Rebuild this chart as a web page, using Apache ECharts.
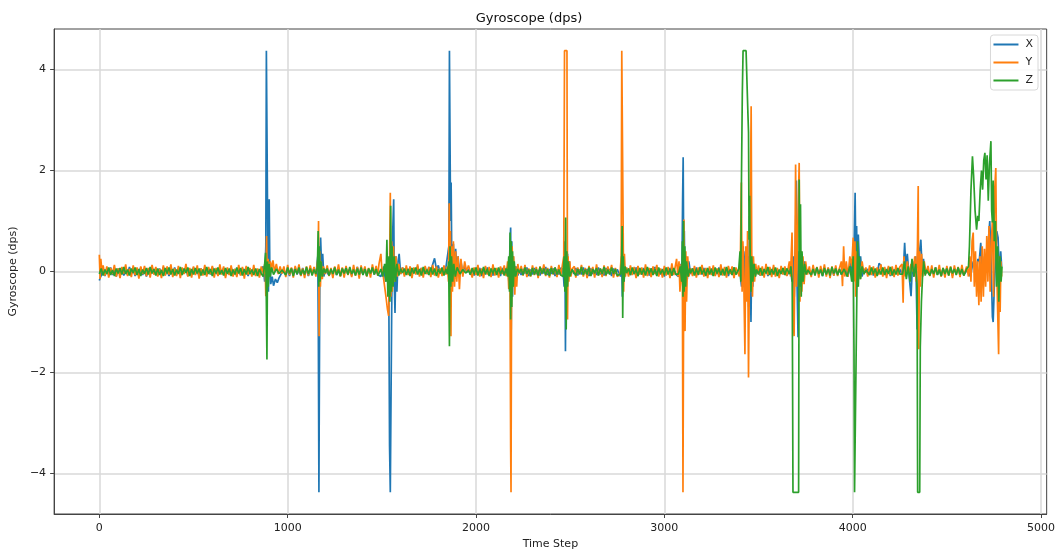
<!DOCTYPE html>
<html>
<head>
<meta charset="utf-8">
<script src="https://cdn.jsdelivr.net/npm/echarts@6/dist/echarts.min.js"></script>
<style>
html,body{margin:0;padding:0;background:#fff;}
#chart{width:1058px;height:556px;}
</style>
</head>
<body>
<div id="chart"></div>
<script>
// ---- tick labels ----
const xTicks = [0, 1000, 2000, 3000, 4000, 5000];
const yTicks = [-4, -2, 0, 2, 4];
const seriesNames = ['X', 'Y', 'Z'];

// ---- gyroscope X (time step, dps) ----
const gyroX = [
[0,-0.18],[5,-0.12],[10,-0.08],[20,0.05],[30,-0.09],[40,0.04],[50,-0.06],[60,0.08],[70,-0.07],[80,0.03],[90,-0.1],[100,0.06],[110,-0.04],[120,0.07],[130,-0.08],[140,0.02],[150,-0.06],[160,0.09],[170,-0.05],[180,0.04],[190,-0.09],[200,0.06],[210,-0.03],[220,0.08],[230,-0.07],[240,0.05],[250,-0.1],[260,0.03],[270,-0.06],[280,0.07],[290,-0.05],[300,0.04],[310,-0.08],[320,0.06],[330,-0.04],[340,0.09],[350,-0.07],[360,0.02],[370,-0.09],[380,0.05],[390,-0.05],[400,0.08],[410,-0.06],[420,0.03],[430,-0.08],[440,0.06],[450,-0.04],[460,0.07],[470,-0.09],[480,0.04],[490,-0.06],[500,0.08],[510,-0.05],[520,0.03],[530,-0.1],[540,0.06],[550,-0.04],[560,0.07],[570,-0.07],[580,0.05],[590,-0.06],[600,0.09],[610,-0.05],[620,0.02],[630,-0.08],[640,0.06],[650,-0.04],[660,0.07],[670,-0.09],[680,0.04],[690,-0.06],[700,0.08],[710,-0.05],[720,0.05],[730,-0.08],[740,0.03],[750,-0.07],[760,0.06],[770,-0.04],[780,0.08],[790,-0.09],[800,0.05],[810,-0.06],[820,0.07],[830,-0.05],[840,0.04],[850,-0.08],[860,0.03],
[870,0.1],[878,-0.2],[884,0.5],[887,4.37],[892,4.37],[895,0.3],[898,-0.4],[902,1.43],[905,0.2],[910,-0.25],[918,-0.1],[925,-0.28],[935,-0.15],[945,-0.22],[955,-0.12],[965,-0.05],
[980,0.05],[990,-0.07],[1000,0.04],[1010,-0.09],[1020,0.06],[1030,-0.04],[1040,0.08],[1050,-0.06],[1060,0.03],[1070,-0.08],[1080,0.07],[1090,-0.05],[1100,0.04],[1110,-0.09],[1120,0.06],[1130,-0.04],[1140,0.07],[1150,-0.06],
[1155,-0.05],[1160,0.3],[1163,-1.3],[1166,-4.37],[1168,-4.37],[1171,0.2],[1175,0.67],[1180,0.1],[1186,0.35],[1192,-0.1],[1200,0.04],
[1210,0.06],[1220,-0.08],[1230,0.04],[1240,-0.05],[1250,0.08],[1260,-0.07],[1270,0.03],[1280,-0.09],[1290,0.06],[1300,-0.04],[1310,0.07],[1320,-0.06],[1330,0.05],[1340,-0.08],[1350,0.04],[1360,-0.05],[1370,0.09],[1380,-0.07],[1390,0.03],[1400,-0.06],[1410,0.07],[1420,-0.09],[1430,0.05],[1440,-0.04],[1450,0.08],[1460,-0.06],[1470,0.04],[1480,-0.07],
[1495,-0.1],[1510,0.1],[1520,-0.2],[1530,0.2],[1537,-0.3],[1541,-3.45],[1545,-4.37],[1550,-4.37],[1553,-0.5],[1558,0.8],[1563,1.43],[1566,-0.2],[1570,-0.82],[1575,0.3],[1580,-0.4],[1586,0.2],[1592,0.35],[1600,-0.05],[1610,0.08],
[1620,-0.06],[1630,0.07],[1640,-0.03],[1650,0.09],[1660,-0.05],[1670,0.06],[1680,-0.02],[1690,0.1],[1700,-0.06],[1710,0.07],[1720,-0.03],[1730,0.08],[1740,-0.05],[1750,0.09],[1760,0.0],[1770,0.14],[1780,0.26],[1790,0.04],[1800,0.12],[1810,-0.03],[1820,0.08],[1830,-0.05],[1840,0.07],
[1850,0.1],[1856,0.5],[1859,4.37],[1862,4.37],[1865,1.0],[1868,1.76],[1871,0.4],[1875,-0.2],[1880,0.55],[1886,-0.15],[1892,0.45],[1898,0.0],[1905,0.3],[1912,-0.1],[1920,0.2],[1930,-0.05],[1940,0.12],[1950,-0.02],[1960,0.05],
[1970,-0.06],[1980,0.05],[1990,-0.08],[2000,0.04],[2010,-0.05],[2020,0.07],[2030,-0.09],[2040,0.03],[2050,-0.06],[2060,0.08],[2070,-0.04],[2080,0.05],[2090,-0.08],[2100,0.06],[2110,-0.05],[2120,0.04],[2130,-0.09],[2140,0.07],[2150,-0.04],[2160,0.05],
[2170,0.1],[2176,-0.3],[2180,0.5],[2184,0.87],[2187,-1.15],[2190,0.6],[2194,-0.5],[2198,0.3],[2204,-0.2],[2212,0.1],[2222,-0.08],[2230,0.02],
[2240,-0.07],[2250,0.05],[2260,-0.04],[2270,0.08],[2280,-0.09],[2290,0.04],[2300,-0.06],[2310,0.07],[2320,-0.05],[2330,0.03],[2340,-0.08],[2350,0.06],[2360,-0.04],[2370,0.09],[2380,-0.07],[2390,0.05],[2400,-0.05],[2410,0.06],[2420,-0.09],[2430,0.04],[2440,-0.06],[2450,0.07],
[2462,0.05],[2468,-0.3],[2472,0.6],[2475,-1.58],[2478,0.4],[2482,-0.3],[2486,0.35],[2490,-0.1],[2496,0.2],[2502,-0.05],[2510,0.05],
[2520,-0.05],[2530,0.07],[2540,-0.08],[2550,0.04],[2560,-0.06],[2570,0.08],[2580,-0.04],[2590,0.05],[2600,-0.09],[2610,0.06],[2620,-0.05],[2630,0.03],[2640,-0.07],[2650,0.08],[2660,-0.06],[2670,0.04],[2680,-0.08],[2690,0.07],[2700,-0.04],[2710,0.05],[2720,-0.09],[2730,0.06],[2740,-0.05],[2750,0.04],
[2768,-0.1],[2773,0.3],[2777,-0.5],[2780,0.25],[2785,-0.2],[2792,0.08],[2800,-0.03],
[2810,0.06],[2820,-0.07],[2830,0.04],[2840,-0.05],[2850,0.08],[2860,-0.09],[2870,0.03],[2880,-0.06],[2890,0.07],[2900,-0.04],[2910,0.05],[2920,-0.08],[2930,0.06],[2940,-0.05],[2950,0.09],[2960,-0.07],[2970,0.04],[2980,-0.06],[2990,0.05],[3000,-0.1],[3010,0.06],[3020,-0.04],[3030,0.07],[3040,-0.08],[3050,0.05],[3060,-0.05],
[3075,-0.1],[3085,0.15],[3093,-0.2],[3097,1.43],[3100,2.26],[3103,0.2],[3106,0.8],[3110,-0.4],[3115,0.3],[3122,-0.15],[3130,0.2],[3140,-0.05],
[3150,0.06],[3160,-0.05],[3170,0.08],[3180,-0.07],[3190,0.04],[3200,-0.06],[3210,0.07],[3220,-0.09],[3230,0.05],[3240,-0.04],[3250,0.06],[3260,-0.08],[3270,0.03],[3280,-0.05],[3290,0.08],[3300,-0.07],[3310,0.05],[3320,-0.04],[3330,0.07],[3340,-0.09],[3350,0.04],[3360,-0.06],[3370,0.08],[3380,-0.05],
[3400,0.05],[3410,-0.3],[3418,0.5],[3425,-0.2],[3430,0.4],[3436,-0.5],[3442,0.3],[3448,-0.7],[3452,1.1],[3456,0.3],[3460,-1.0],[3464,0.2],[3470,-0.3],[3476,0.15],[3482,-0.1],[3490,0.05],
[3500,0.06],[3510,-0.08],[3520,0.04],[3530,-0.05],[3540,0.07],[3550,-0.09],[3560,0.05],[3570,-0.04],[3580,0.08],[3590,-0.06],[3600,0.03],[3610,-0.07],[3620,0.06],[3630,-0.05],[3640,0.04],[3650,-0.08],
[3670,0.05],[3678,-0.2],[3684,0.3],[3690,-0.5],[3696,0.6],[3701,1.8],[3705,-0.3],[3710,-1.3],[3715,0.4],[3720,-0.2],[3726,0.3],[3734,-0.15],[3742,0.2],[3750,-0.05],[3760,0.03],
[3770,0.05],[3780,-0.07],[3790,0.06],[3800,-0.04],[3810,0.08],[3820,-0.06],[3830,0.03],[3840,-0.09],[3850,0.06],[3860,-0.05],[3870,0.07],[3880,-0.04],[3890,0.05],[3900,-0.08],[3910,0.06],[3920,-0.05],[3930,0.04],[3940,-0.06],
[3960,0.1],[3975,-0.1],[3990,0.2],[4000,-0.2],[4008,0.5],[4013,1.56],[4017,0.2],[4021,0.9],[4025,-0.3],[4030,0.73],[4036,0.1],[4042,0.3],[4050,-0.1],[4060,0.05],[4070,-0.02],
[4080,0.05],[4090,-0.06],[4100,0.07],[4110,-0.08],[4120,0.04],[4130,-0.05],[4140,0.16],[4150,0.12],[4160,-0.07],[4170,0.05],[4180,-0.04],[4190,0.08],[4200,-0.09],[4210,0.04],[4220,-0.05],[4230,0.07],[4240,-0.06],[4250,0.05],[4260,-0.04],
[4270,0.1],[4276,0.57],[4282,0.1],[4290,0.35],[4300,-0.1],[4310,-0.49],[4318,0.2],[4326,-0.1],[4335,0.3],[4342,-1.15],[4348,-0.2],[4355,0.4],[4362,0.63],[4368,0.1],[4376,0.25],[4384,-0.05],[4392,0.03],
[4400,0.05],[4410,-0.07],[4420,0.04],[4430,-0.05],[4440,0.08],[4450,-0.06],[4460,0.03],[4470,-0.09],[4480,0.06],[4490,-0.04],[4500,0.07],[4510,-0.05],[4520,0.05],[4530,-0.08],[4540,0.06],[4550,-0.04],[4560,0.07],[4570,-0.06],[4580,0.04],[4590,-0.07],
[4610,0.05],[4625,-0.1],[4640,0.2],[4655,-0.05],[4665,0.25],[4672,0.2],[4680,0.57],[4690,-0.1],[4700,0.3],[4710,0.1],[4720,0.6],[4728,1.0],[4735,0.2],[4742,-0.9],[4746,-1.0],[4752,-0.3],[4758,0.2],[4765,0.8],[4772,0.67],[4780,-0.2],[4786,0.4],[4791,0.1]
];

// ---- gyroscope Y (time step, dps) ----
const gyroY = [
[0,0.33],[4,-0.15],[8,0.25],[14,0.0],[20,0.12],[30,-0.08],[40,0.1],[50,-0.12],[60,0.07],[70,-0.05],[80,0.13],[90,-0.1],[100,0.06],[110,-0.13],[120,0.09],[130,-0.04],[140,0.14],[150,-0.09],[160,0.05],[170,-0.11],[180,0.12],[190,-0.07],[200,0.08],[210,-0.14],[220,0.1],[230,-0.05],[240,0.11],[250,-0.09],[260,0.07],[270,-0.12],[280,0.13],[290,-0.06],[300,0.09],[310,-0.1],[320,0.05],[330,-0.13],[340,0.12],[350,-0.08],[360,0.1],[370,-0.06],[380,0.14],[390,-0.11],[400,0.06],[410,-0.09],[420,0.11],[430,-0.13],[440,0.08],[450,-0.05],[460,0.15],[470,-0.1],[480,0.07],[490,-0.12],[500,0.1],[510,-0.07],[520,0.12],[530,-0.14],[540,0.06],[550,-0.08],[560,0.13],[570,-0.1],[580,0.09],[590,-0.05],[600,0.11],[610,-0.12],[620,0.07],[630,-0.09],[640,0.14],[650,-0.06],[660,0.1],[670,-0.13],[680,0.08],[690,-0.07],[700,0.12],[710,-0.1],[720,0.05],[730,-0.11],[740,0.13],[750,-0.08],[760,0.09],[770,-0.14],[780,0.11],[790,-0.06],[800,0.07],[810,-0.1],[820,0.13],[830,-0.09],[840,0.06],[850,-0.12],[860,0.1],
[872,-0.05],[880,0.2],[884,-0.49],[888,0.7],[892,-0.3],[896,0.25],[902,-0.1],[908,0.2],[915,0.05],[922,0.22],[930,0.0],[940,0.15],[950,-0.05],[960,0.1],[970,-0.04],
[980,0.1],[990,-0.11],[1000,0.13],[1010,-0.07],[1020,0.08],[1030,-0.12],[1040,0.11],[1050,-0.05],[1060,0.14],[1070,-0.09],[1080,0.06],[1090,-0.13],[1100,0.1],[1110,-0.08],[1120,0.12],[1130,-0.06],[1140,0.09],[1150,-0.1],
[1158,-0.1],[1162,0.3],[1164,1.0],[1167,-1.28],[1170,0.4],[1174,-0.3],[1178,0.2],[1184,-0.15],[1190,0.1],[1200,-0.05],
[1210,0.12],[1220,-0.09],[1230,0.07],[1240,-0.13],[1250,0.1],[1260,-0.06],[1270,0.14],[1280,-0.1],[1290,0.08],[1300,-0.12],[1310,0.11],[1320,-0.07],[1330,0.06],[1340,-0.11],[1350,0.13],[1360,-0.08],[1370,0.09],[1380,-0.14],[1390,0.12],[1400,-0.06],[1410,0.1],[1420,-0.1],[1430,0.07],[1440,-0.12],[1450,0.14],[1460,-0.05],[1470,0.11],[1478,-0.08],
[1485,0.15],[1495,0.35],[1500,0.05],[1508,-0.1],[1515,-0.3],[1522,-0.5],[1530,-0.75],[1536,-0.88],[1540,-0.3],[1545,1.56],[1548,-0.5],[1552,0.6],[1556,-0.4],[1562,0.5],[1568,-0.2],[1575,0.3],[1582,-0.1],[1590,0.15],[1600,-0.05],[1610,0.08],
[1620,-0.1],[1630,0.12],[1640,-0.07],[1650,0.1],[1660,-0.13],[1670,0.08],[1680,-0.06],[1690,0.14],[1700,-0.1],[1710,0.07],[1720,-0.12],[1730,0.11],[1740,-0.05],[1750,0.09],[1760,-0.11],[1770,0.13],[1780,-0.08],[1790,0.1],[1800,-0.12],[1810,0.06],[1820,-0.09],[1830,0.12],[1840,-0.06],
[1848,0.1],[1854,-0.2],[1858,1.35],[1861,-0.3],[1864,0.8],[1867,-1.28],[1870,0.5],[1875,-0.4],[1880,0.6],[1886,-0.3],[1892,0.4],[1898,-0.2],[1905,0.3],[1912,-0.35],[1920,0.25],[1930,-0.1],[1940,0.2],[1950,0.0],[1960,0.12],
[1970,0.1],[1980,-0.12],[1990,0.08],[2000,-0.07],[2010,0.13],[2020,-0.1],[2030,0.06],[2040,-0.13],[2050,0.11],[2060,-0.06],[2070,0.09],[2080,-0.11],[2090,0.14],[2100,-0.08],[2110,0.07],[2120,-0.12],[2130,0.1],[2140,-0.05],[2150,0.12],[2160,-0.09],
[2168,0.2],[2174,-0.35],[2180,0.4],[2184,-3.46],[2186,-4.37],[2189,-0.2],[2192,0.5],[2196,-0.3],[2200,0.3],[2206,-0.46],[2210,0.1],[2216,-0.3],[2222,0.15],[2230,-0.04],
[2240,0.11],[2250,-0.08],[2260,0.13],[2270,-0.11],[2280,0.06],[2290,-0.1],[2300,0.12],[2310,-0.07],[2320,0.09],[2330,-0.13],[2340,0.1],[2350,-0.05],[2360,0.14],[2370,-0.09],[2380,0.07],[2390,-0.12],[2400,0.11],[2410,-0.06],[2420,0.08],[2430,-0.11],[2440,0.13],[2450,-0.08],
[2460,-0.1],[2466,0.3],[2470,4.37],[2483,4.37],[2486,-0.95],[2489,0.3],[2493,-0.2],[2498,0.2],[2504,-0.1],[2512,0.06],
[2522,0.1],[2530,-0.12],[2540,0.08],[2550,-0.06],[2560,0.13],[2570,-0.1],[2580,0.07],[2590,-0.13],[2600,0.11],[2610,-0.07],[2620,0.09],[2630,-0.12],[2640,0.14],[2650,-0.08],[2660,0.06],[2670,-0.11],[2680,0.12],[2690,-0.09],[2700,0.1],[2710,-0.05],[2720,0.13],[2730,-0.12],[2740,0.07],[2750,-0.1],
[2765,-0.05],[2771,0.3],[2774,4.37],[2781,4.37],[2784,-0.4],[2788,0.35],[2793,-0.1],[2800,0.08],
[2810,-0.1],[2820,0.12],[2830,-0.07],[2840,0.09],[2850,-0.13],[2860,0.11],[2870,-0.06],[2880,0.08],[2890,-0.12],[2900,0.14],[2910,-0.09],[2920,0.07],[2930,-0.11],[2940,0.1],[2950,-0.05],[2960,0.13],[2970,-0.1],[2980,0.06],[2990,-0.12],[3000,0.11],[3010,-0.08],[3020,0.09],[3030,-0.13],[3040,0.16],[3050,-0.07],
[3065,0.25],[3072,-0.1],[3078,0.2],[3083,-0.4],[3090,0.15],[3096,-0.3],[3099,-4.37],[3101,-4.37],[3104,1.03],[3107,-0.5],[3110,-1.18],[3114,0.4],[3118,-0.6],[3124,0.3],[3130,-0.1],[3140,0.06],
[3150,-0.09],[3160,0.11],[3170,-0.12],[3180,0.08],[3190,-0.06],[3200,0.13],[3210,-0.1],[3220,0.07],[3230,-0.13],[3240,0.1],[3250,-0.07],[3260,0.12],[3270,-0.09],[3280,0.06],[3290,-0.11],[3300,0.14],[3310,-0.08],[3320,0.09],[3330,-0.12],[3340,0.11],[3350,-0.05],[3360,0.1],[3370,-0.13],[3380,0.08],
[3398,-0.1],[3404,0.3],[3409,1.76],[3413,-0.4],[3417,0.6],[3422,-0.2],[3428,-1.64],[3432,0.5],[3437,-0.6],[3442,0.8],[3447,-2.1],[3451,-0.3],[3456,1.0],[3461,3.27],[3464,0.4],[3468,-0.5],[3473,0.3],[3479,-0.2],[3485,0.15],[3492,-0.05],
[3500,0.12],[3510,-0.08],[3520,0.1],[3530,-0.12],[3540,0.15],[3550,-0.07],[3560,0.09],[3570,-0.11],[3580,0.13],[3590,-0.1],[3600,0.07],[3610,-0.13],[3620,0.11],[3630,-0.06],[3640,0.1],[3650,-0.09],
[3664,0.2],[3670,-0.1],[3678,0.77],[3684,-1.0],[3689,-1.28],[3694,0.5],[3697,2.12],[3702,-0.3],[3708,0.8],[3716,2.15],[3720,-0.6],[3725,0.4],[3730,-0.4],[3736,0.3],[3742,-0.25],[3750,0.2],[3760,-0.06],
[3770,0.1],[3780,-0.11],[3790,0.13],[3800,-0.07],[3810,0.09],[3820,-0.12],[3830,0.11],[3840,-0.06],[3850,0.14],[3860,-0.1],[3870,0.08],[3880,-0.13],[3890,0.1],[3900,-0.08],[3910,0.12],[3920,-0.09],[3930,0.07],
[3940,0.2],[3946,-0.29],[3952,0.5],[3958,-0.1],[3966,0.2],[3975,-0.1],[3985,0.3],[3995,0.1],[4003,0.67],[4008,-0.2],[4012,0.6],[4016,-0.5],[4020,0.4],[4025,-0.3],[4032,0.25],[4040,-0.15],[4050,0.2],[4060,-0.05],[4070,0.08],
[4080,-0.1],[4090,0.12],[4100,-0.07],[4110,0.1],[4120,-0.12],[4130,0.08],[4140,-0.06],[4150,0.14],[4160,-0.1],[4170,0.09],[4180,-0.13],[4190,0.11],[4200,-0.07],[4210,0.1],[4220,-0.11],[4230,0.13],[4240,-0.08],[4250,0.09],
[4262,0.15],[4268,-0.62],[4272,0.3],[4280,-0.1],[4290,0.2],[4300,-0.05],[4310,0.15],[4320,0.0],[4330,0.3],[4338,-0.2],[4344,0.5],[4348,1.69],[4351,-1.54],[4355,0.4],[4360,-0.3],[4366,0.35],[4372,-0.1],[4380,0.2],[4390,-0.04],
[4400,0.11],[4410,-0.09],[4420,0.12],[4430,-0.12],[4440,0.08],[4450,-0.06],[4460,0.13],[4470,-0.1],[4480,0.07],[4490,-0.12],[4500,0.11],[4510,-0.08],[4520,0.1],[4530,-0.13],[4540,0.12],[4550,-0.06],[4560,0.09],[4570,-0.11],[4580,0.13],[4590,-0.08],
[4605,0.1],[4615,-0.1],[4622,0.3],[4628,-0.2],[4634,0.6],[4640,0.77],[4646,-0.3],[4652,0.4],[4658,-0.5],[4664,0.2],[4670,-0.67],[4676,0.3],[4682,-0.6],[4688,0.5],[4694,-0.5],[4700,0.45],[4706,-0.3],[4712,0.7],[4718,-0.2],[4724,0.9],[4730,-0.4],[4736,0.6],[4742,1.0],[4748,-0.5],[4754,1.6],[4760,2.05],[4764,0.2],[4770,-0.8],[4775,-1.64],[4779,0.3],[4783,-0.8],[4787,0.2],[4791,-0.1]
];

// ---- gyroscope Z (time step, dps) ----
const gyroZ = [
[0,-0.05],[10,0.06],[20,-0.08],[30,0.04],[40,-0.05],[50,0.08],[60,-0.07],[70,0.03],[80,-0.09],[90,0.06],[100,-0.04],[110,0.07],[120,-0.06],[130,0.09],[140,-0.05],[150,0.04],[160,-0.08],[170,0.06],[180,-0.03],[190,0.08],[200,-0.07],[210,0.05],[220,-0.09],[230,0.04],[240,-0.05],[250,0.07],[260,-0.06],[270,0.09],[280,-0.04],[290,0.05],[300,-0.08],[310,0.06],[320,-0.07],[330,0.03],[340,-0.09],[350,0.07],[360,-0.04],[370,0.08],[380,-0.06],[390,0.05],[400,-0.08],[410,0.04],[420,-0.05],[430,0.09],[440,-0.07],[450,0.06],[460,-0.03],[470,0.08],[480,-0.09],[490,0.05],[500,-0.06],[510,0.07],[520,-0.04],[530,0.06],[540,-0.08],[550,0.04],[560,-0.07],[570,0.09],[580,-0.05],[590,0.05],[600,-0.09],[610,0.06],[620,-0.04],[630,0.08],[640,-0.06],[650,0.03],[660,-0.08],[670,0.07],[680,-0.05],[690,0.06],[700,-0.09],[710,0.04],[720,-0.06],[730,0.08],[740,-0.04],[750,0.07],[760,-0.08],[770,0.05],[780,-0.06],[790,0.09],[800,-0.05],[810,0.04],[820,-0.07],[830,0.06],[840,-0.09],[850,0.05],[860,-0.04],
[870,-0.1],[878,0.15],[883,0.37],[886,-0.3],[890,-1.74],[893,0.2],[897,-0.3],[902,0.15],[908,-0.1],[915,0.08],[925,-0.06],[940,0.05],[955,-0.04],[970,0.03],
[980,0.05],[990,-0.07],[1000,0.08],[1010,-0.04],[1020,0.06],[1030,-0.09],[1040,0.05],[1050,-0.05],[1060,0.08],[1070,-0.07],[1080,0.04],[1090,-0.06],[1100,0.09],[1110,-0.05],[1120,0.06],[1130,-0.08],[1140,0.04],[1150,-0.05],
[1158,0.1],[1162,0.8],[1165,-0.3],[1168,0.5],[1172,-0.2],[1177,0.2],[1184,-0.1],[1192,0.06],[1200,-0.03],
[1210,0.06],[1220,-0.08],[1230,0.05],[1240,-0.05],[1250,0.08],[1260,-0.07],[1270,0.04],[1280,-0.09],[1290,0.06],[1300,-0.04],[1310,0.07],[1320,-0.06],[1330,0.09],[1340,-0.05],[1350,0.04],[1360,-0.08],[1370,0.06],[1380,-0.06],[1390,0.08],[1400,-0.07],[1410,0.05],[1420,-0.09],[1430,0.06],[1440,-0.04],[1450,0.08],[1460,-0.06],[1470,0.05],[1480,-0.08],
[1495,0.05],[1505,-0.1],[1515,0.15],[1522,-0.2],[1527,0.63],[1532,-0.5],[1538,0.3],[1543,-0.6],[1547,1.3],[1551,-0.4],[1555,0.5],[1560,-0.3],[1566,0.3],[1572,-0.2],[1580,0.15],[1590,-0.08],[1600,0.05],[1610,-0.03],
[1620,0.06],[1630,-0.07],[1640,0.05],[1650,-0.09],[1660,0.07],[1670,-0.04],[1680,0.08],[1690,-0.06],[1700,0.05],[1710,-0.08],[1720,0.09],[1730,-0.05],[1740,0.04],[1750,-0.07],[1760,0.08],[1770,-0.06],[1780,0.06],[1790,-0.09],[1800,0.05],[1810,-0.04],[1820,0.07],[1830,-0.08],[1840,0.05],
[1848,-0.05],[1855,0.2],[1859,-1.48],[1862,0.5],[1866,-0.3],[1870,0.3],[1876,-0.2],[1882,0.15],[1890,-0.1],[1900,0.08],[1915,-0.05],[1930,0.04],[1945,-0.03],[1960,0.02],
[1970,-0.06],[1980,0.07],[1990,-0.05],[2000,0.08],[2010,-0.08],[2020,0.04],[2030,-0.06],[2040,0.09],[2050,-0.05],[2060,0.05],[2070,-0.09],[2080,0.06],[2090,-0.04],[2100,0.07],[2110,-0.07],[2120,0.08],[2130,-0.05],[2140,0.04],[2150,-0.08],[2160,0.06],
[2168,-0.1],[2174,0.3],[2178,-0.4],[2181,0.77],[2184,-0.95],[2187,0.6],[2190,-0.7],[2194,0.4],[2198,-0.3],[2203,0.2],[2210,-0.1],[2220,0.05],[2230,-0.02],
[2240,0.05],[2250,-0.07],[2260,0.08],[2270,-0.05],[2280,0.04],[2290,-0.09],[2300,0.07],[2310,-0.06],[2320,0.05],[2330,-0.08],[2340,0.09],[2350,-0.04],[2360,0.06],[2370,-0.07],[2380,0.05],[2390,-0.09],[2400,0.07],[2410,-0.05],[2420,0.08],[2430,-0.06],[2440,0.04],[2450,-0.07],
[2462,-0.1],[2468,0.3],[2472,-0.4],[2476,1.07],[2479,-1.15],[2482,0.4],[2486,-0.3],[2491,0.2],[2498,-0.1],[2510,0.04],
[2520,0.06],[2530,-0.08],[2540,0.05],[2550,-0.05],[2560,0.09],[2570,-0.07],[2580,0.04],[2590,-0.06],[2600,0.08],[2610,-0.09],[2620,0.05],[2630,-0.04],[2640,0.07],[2650,-0.08],[2660,0.06],[2670,-0.05],[2680,0.09],[2690,-0.07],[2700,0.04],[2710,-0.06],[2720,0.08],[2730,-0.05],[2740,0.05],[2750,-0.08],
[2768,-0.05],[2773,0.2],[2776,0.9],[2779,-0.92],[2782,0.3],[2786,-0.2],[2792,0.1],[2800,-0.03],
[2810,0.06],[2820,-0.07],[2830,0.08],[2840,-0.05],[2850,0.04],[2860,-0.09],[2870,0.07],[2880,-0.06],[2890,0.05],[2900,-0.08],[2910,0.09],[2920,-0.04],[2930,0.06],[2940,-0.07],[2950,0.05],[2960,-0.09],[2970,0.08],[2980,-0.05],[2990,0.04],[3000,-0.07],[3010,0.08],[3020,-0.06],[3030,0.05],[3040,-0.08],[3050,0.07],[3060,-0.05],
[3075,-0.05],[3085,0.1],[3092,-0.2],[3096,0.6],[3099,-0.5],[3102,1.0],[3105,-0.4],[3109,0.5],[3113,-0.3],[3118,0.2],[3126,-0.1],[3134,0.06],[3140,-0.03],
[3150,0.06],[3160,-0.08],[3170,0.05],[3180,-0.06],[3190,0.09],[3200,-0.05],[3210,0.04],[3220,-0.08],[3230,0.07],[3240,-0.06],[3250,0.05],[3260,-0.09],[3270,0.08],[3280,-0.04],[3290,0.06],[3300,-0.07],[3310,0.05],[3320,-0.08],[3330,0.09],[3340,-0.05],[3350,0.04],[3360,-0.07],[3370,0.08],[3380,-0.06],
[3395,0.05],[3402,0.4],[3406,-0.2],[3409,1.62],[3414,3.5],[3418,4.37],[3434,4.37],[3440,3.6],[3444,3.1],[3447,2.75],[3450,0.63],[3453,1.5],[3456,0.2],[3460,-0.4],[3464,0.3],[3470,-0.2],[3476,0.15],[3484,-0.1],[3490,0.04],
[3500,-0.06],[3510,0.07],[3520,-0.08],[3530,0.05],[3540,-0.04],[3550,0.09],[3560,-0.07],[3570,0.05],[3580,-0.06],[3590,0.08],[3600,-0.09],[3610,0.04],[3620,-0.05],[3630,0.07],[3640,-0.07],[3650,0.06],
[3665,-0.05],[3672,0.1],[3679,-0.2],[3683,-4.37],[3713,-4.37],[3716,1.82],[3719,-0.3],[3723,1.33],[3727,-0.5],[3731,0.4],[3737,-0.2],[3745,0.15],[3753,-0.06],[3762,0.03],
[3772,0.06],[3780,-0.07],[3790,0.05],[3800,-0.08],[3810,0.08],[3820,-0.05],[3830,0.04],[3840,-0.09],[3850,0.07],[3860,-0.06],[3870,0.05],[3880,-0.08],[3890,0.09],[3900,-0.04],[3910,0.06],[3920,-0.07],[3930,0.05],[3940,-0.06],
[3955,0.05],[3970,-0.1],[3985,0.1],[3995,-0.2],[4003,0.3],[4007,-1.54],[4010,-4.37],[4019,-4.37],[4022,-0.5],[4026,0.6],[4030,-0.3],[4035,0.3],[4042,-0.15],[4050,0.1],[4060,-0.05],[4070,0.03],
[4080,0.05],[4090,-0.07],[4100,0.08],[4110,-0.05],[4120,0.06],[4130,-0.09],[4140,0.04],[4150,-0.06],[4160,0.08],[4170,-0.07],[4180,0.05],[4190,-0.05],[4200,0.09],[4210,-0.08],[4220,0.04],[4230,-0.06],[4240,0.07],[4250,-0.05],
[4265,-0.05],[4275,0.2],[4285,-0.15],[4295,0.1],[4305,-0.2],[4315,0.25],[4325,-0.1],[4335,0.15],[4342,-0.3],[4345,-4.37],[4356,-4.37],[4359,-1.5],[4365,-0.6],[4371,-0.1],[4377,0.2],[4385,-0.08],[4392,0.03],
[4400,0.06],[4410,-0.08],[4420,0.05],[4430,-0.05],[4440,0.08],[4450,-0.07],[4460,0.04],[4470,-0.09],[4480,0.07],[4490,-0.05],[4500,0.06],[4510,-0.08],[4520,0.09],[4530,-0.04],[4540,0.05],[4550,-0.07],[4560,0.08],[4570,-0.06],[4580,0.05],[4590,-0.08],
[4605,0.05],[4615,0.1],[4620,0.5],[4628,1.6],[4636,2.28],[4642,1.9],[4650,1.2],[4658,0.83],[4664,1.1],[4670,1.0],[4677,1.6],[4684,2.0],[4690,1.62],[4696,2.2],[4702,2.35],[4708,1.82],[4714,2.3],[4720,1.4],[4726,2.1],[4734,2.58],[4738,1.2],[4742,0.97],[4746,1.8],[4752,0.6],[4758,1.0],[4764,-0.3],[4770,0.5],[4776,-0.6],[4782,0.3],[4788,-0.2],[4793,0.1]
];

const colors = ['#1f77b4', '#ff7f0e', '#2ca02c'];
const dataSets = [gyroX, gyroY, gyroZ];

const fmtMinus = v => (v < 0 ? '\u2212' + Math.abs(v) : String(v));
const font = 'DejaVu Sans';

const chart = echarts.init(document.getElementById('chart'), null, { renderer: 'canvas' });
chart.setOption({
  animation: false,
  backgroundColor: '#ffffff',
  textStyle: { fontFamily: font },
  title: {
    text: 'Gyroscope (dps)',
    left: 'center',
    top: 7,
    textStyle: { fontFamily: font, fontSize: 13, fontWeight: 'normal', color: '#111' }
  },
  legend: {
    data: seriesNames,
    orient: 'vertical',
    right: 20,
    top: 35,
    icon: 'rect',
    itemWidth: 25,
    itemHeight: 2,
    itemGap: 7,
    padding: [4, 5, 4, 3],
    backgroundColor: 'rgba(255,255,255,0.85)',
    borderColor: '#d8d8d8',
    borderWidth: 1,
    borderRadius: 3,
    textStyle: { fontFamily: font, fontSize: 11, color: '#222', padding: [0, 0, 0, 2] }
  },
  grid: {
    left: 53, right: 11, top: 29, bottom: 42,
    show: true, borderColor: '#444', borderWidth: 1, backgroundColor: 'transparent'
  },
  xAxis: {
    type: 'value',
    min: -240,
    max: 5030,
    name: 'Time Step',
    nameLocation: 'middle',
    nameGap: 25,
    nameTextStyle: { fontFamily: font, fontSize: 11, color: '#222' },
    axisLine: { show: true, onZero: false, lineStyle: { color: '#444', width: 1 } },
    axisTick: { show: true, length: 4, customValues: xTicks, lineStyle: { color: '#444' } },
    axisLabel: { customValues: xTicks, fontFamily: font, fontSize: 11, color: '#222', margin: 9, formatter: v => String(v) },
    splitLine: { show: true, lineStyle: { color: '#d9d9d9', width: 1.5 } }
  },
  yAxis: {
    type: 'value',
    min: -4.8,
    max: 4.8,
    name: 'Gyroscope (dps)',
    nameLocation: 'middle',
    nameGap: 27,
    nameTextStyle: { fontFamily: font, fontSize: 11, color: '#222' },
    axisLine: { show: true, onZero: false, lineStyle: { color: '#444', width: 1 } },
    axisTick: { show: true, length: 4, customValues: yTicks, lineStyle: { color: '#444' } },
    axisLabel: { customValues: yTicks, fontFamily: font, fontSize: 11, color: '#222', margin: 8, formatter: fmtMinus },
    splitLine: { show: true, lineStyle: { color: '#d9d9d9', width: 1.5 } }
  },
  series: seriesNames.map((name, i) => ({
    name: name,
    type: 'line',
    data: dataSets[i],
    showSymbol: false,
    symbol: 'none',
    sampling: false,
    z: 2 + i,
    itemStyle: { color: colors[i] },
    lineStyle: { color: colors[i], width: 1.7 }
  }))
});
</script>
</body>
</html>
